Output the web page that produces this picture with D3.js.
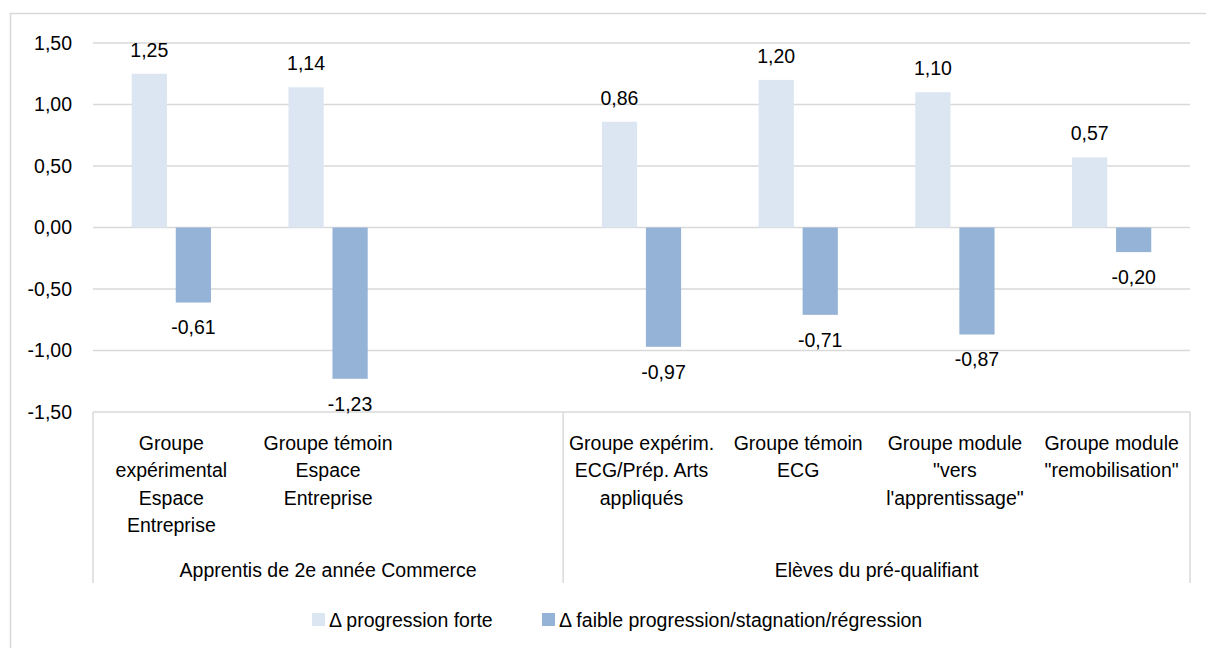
<!DOCTYPE html>
<html>
<head>
<meta charset="utf-8">
<script src="https://cdn.jsdelivr.net/npm/d3@7"></script>
<style>
  body { margin: 0; background: #fff; }
  text { font-family: "Liberation Sans", Arial, sans-serif; fill: #000; }
</style>
</head>
<body>
<div id="chart"></div>
<script>
"use strict"
// Data
var categories = ["exp", "tem", "blank", "ecg", "ecgT", "vers", "remob"]
var categoryLabels = [
    ["Groupe", "expérimental", "Espace", "Entreprise"],
    ["Groupe témoin", "Espace", "Entreprise"],
    [],
    ["Groupe expérim.", "ECG/Prép. Arts", "appliqués"],
    ["Groupe témoin", "ECG"],
    ["Groupe module", "\"vers", "l'apprentissage\""],
    ["Groupe module", "\"remobilisation\""]
]
var groupNames = ["Apprentis de 2e année Commerce", "Elèves du pré-qualifiant"]
var groupSpans = [[0, 3], [3, 7]]  // index range of categories per group
var seriesNames = ["Δ progression forte", "Δ faible progression/stagnation/régression"]
var progressionForte = [1.25, 1.14, null, 0.86, 1.20, 1.10, 0.57]
var faibleProgression = [-0.61, -1.23, null, -0.97, -0.71, -0.87, -0.20]
var yTicks = [1.5, 1.0, 0.5, 0, -0.5, -1.0, -1.5]
var colors = ["#dce6f2", "#95b3d7"]

var width = 1206
var height = 648
var margin = { top: 43, right: 16, bottom: 236, left: 93 }
var plotW = width - margin.left - margin.right
var plotH = height - margin.top - margin.bottom
var fontSize = "19.5px"

var svg = d3.select("#chart").append("svg")
    .attr("width", width)
    .attr("height", height)

// outer frame (only left and top edges visible)
svg.append("path")
    .attr("d", "M10.5," + height + "V13.5H" + width)
    .attr("fill", "none")
    .attr("stroke", "#d9d9d9")
    .attr("stroke-width", 1.5)

var g = svg.append("g").attr("transform", "translate(" + margin.left + "," + margin.top + ")")

var xScale = d3.scaleBand().domain(categories).range([0, plotW])
var x1 = d3.scaleBand().domain([0, 1]).range([0, xScale.bandwidth()]).paddingInner(0.2).paddingOuter(0.88)
var yScale = d3.scaleLinear().domain([-1.5, 1.5]).range([plotH, 0])
var fmt = function (v) { return d3.format(".2f")(v).replace(".", ",").replace("\u2212", "-") }

// gridlines
g.selectAll(".grid").data(yTicks).enter().append("line")
    .attr("class", "grid")
    .attr("x1", 0).attr("x2", plotW)
    .attr("y1", function (d) { return yScale(d) }).attr("y2", function (d) { return yScale(d) })
    .attr("stroke", "#d9d9d9")
    .attr("stroke-width", 1.5)

// y axis labels
var yAxis = d3.axisLeft(yScale).tickValues(yTicks).tickFormat(fmt).tickSize(0).tickPadding(21)
g.append("g").attr("class", "y axis").call(yAxis)
    .call(function (a) { a.select(".domain").remove() })
    .selectAll("text").style("font-size", fontSize).attr("fill", "#000")

// bars
var rows = categories.map(function (c, i) { return { cat: c, vals: [progressionForte[i], faibleProgression[i]] } })
var cat = g.selectAll(".cat").data(rows).enter().append("g")
    .attr("class", "cat")
    .attr("transform", function (d) { return "translate(" + xScale(d.cat) + ",0)" })

var bars = cat.selectAll(".bar")
    .data(function (d) { return d.vals.map(function (v, s) { return { s: s, v: v } }).filter(function (e) { return e.v !== null }) })
    .enter()

bars.append("rect")
    .attr("class", "bar")
    .attr("x", function (d) { return x1(d.s) })
    .attr("width", x1.bandwidth())
    .attr("y", function (d) { return yScale(Math.max(0, d.v)) })
    .attr("height", function (d) { return Math.abs(yScale(d.v) - yScale(0)) })
    .attr("fill", function (d) { return colors[d.s] })

bars.append("text")
    .attr("x", function (d) { return x1(d.s) + x1.bandwidth() / 2 })
    .attr("y", function (d) { return d.v >= 0 ? yScale(d.v) - 24 : yScale(d.v) + 25 })
    .attr("dy", "0.35em")
    .attr("text-anchor", "middle")
    .style("font-size", fontSize)
    .text(function (d) { return fmt(d.v) })

// category axis box
var axisG = g.append("g").attr("transform", "translate(0," + plotH + ")")
var sepX = [0, xScale(categories[groupSpans[1][0]]), plotW]
axisG.selectAll(".sep").data(sepX).enter().append("line")
    .attr("x1", function (d) { return d }).attr("x2", function (d) { return d })
    .attr("y1", 0).attr("y2", 171)
    .attr("stroke", "#d9d9d9").attr("stroke-width", 1.5)

axisG.selectAll(".catLabel").data(categories).enter().append("text")
    .attr("class", "catLabel")
    .attr("text-anchor", "middle")
    .style("font-size", fontSize)
    .attr("x", function (d) { return xScale(d) + xScale.bandwidth() / 2 })
    .each(function (d, i) {
        var t = d3.select(this)
        categoryLabels[i].forEach(function (line, k) {
            t.append("tspan")
                .attr("x", xScale(d) + xScale.bandwidth() / 2)
                .attr("y", 31 + k * 27.5)
                .attr("dy", "0.35em")
                .text(line)
        })
    })

axisG.selectAll(".groupLabel").data(groupNames).enter().append("text")
    .attr("class", "groupLabel")
    .attr("text-anchor", "middle")
    .style("font-size", fontSize)
    .attr("x", function (d, i) {
        var a = xScale(categories[groupSpans[i][0]])
        var b = groupSpans[i][1] >= categories.length ? plotW : xScale(categories[groupSpans[i][1]])
        return (a + b) / 2
    })
    .attr("y", 158)
    .attr("dy", "0.35em")
    .text(function (d) { return d })

// legend
var legendX = [312, 542]
var legend = svg.selectAll(".legend").data(seriesNames).enter().append("g")
    .attr("class", "legend")
    .attr("transform", function (d, i) { return "translate(" + legendX[i] + ",613)" })
legend.append("rect")
    .attr("width", 13).attr("height", 13)
    .attr("fill", function (d, i) { return colors[i] })
legend.append("text")
    .attr("x", 17).attr("y", 7)
    .attr("dy", "0.35em")
    .style("font-size", fontSize)
    .text(function (d) { return d })
</script>
</body>
</html>
